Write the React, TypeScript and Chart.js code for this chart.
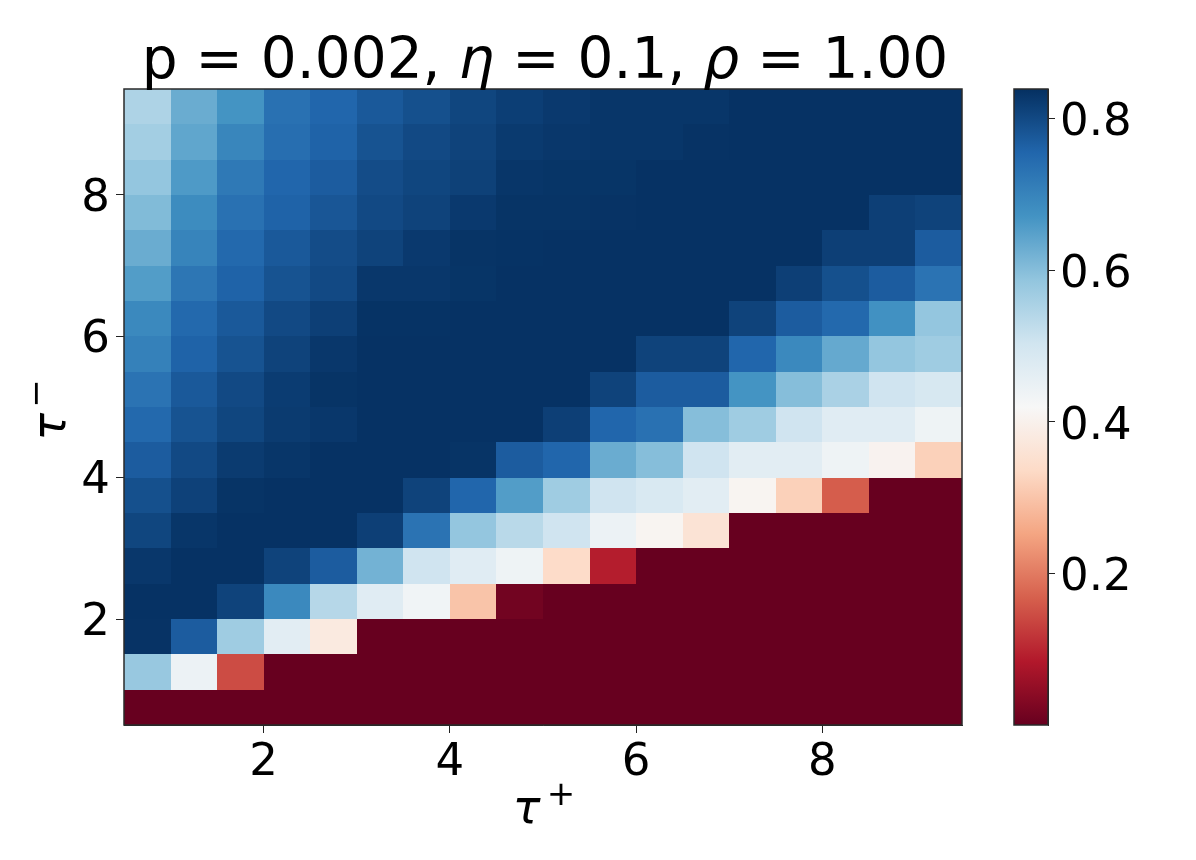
import React, { useEffect, useRef } from "react";
import { Chart, registerables } from "chart.js";

Chart.register(...registerables);

const FONT = '"DejaVu Sans"';
const xEdges = [0.5, 1, 1.5, 2, 2.5, 3, 3.5, 4, 4.5, 5, 5.5, 6, 6.5, 7, 7.5, 8, 8.5, 9];
const yEdges = [9, 8.5, 8, 7.5, 7, 6.5, 6, 5.5, 5, 4.5, 4, 3.5, 3, 2.5, 2, 1.5, 1, 0.5];
const cellSize = 0.5;
const axisTicks = [2, 4, 6, 8];
const colorbarTicks = [0.2, 0.4, 0.6, 0.8];
const vMin = 0.0005;
const vMax = 0.839;

// rows listed from the top of the picture (tau- = 9..9.5) to the bottom
const row0 = [0.55, 0.63, 0.67, 0.735, 0.755, 0.775, 0.79, 0.805, 0.817, 0.825, 0.83, 0.83, 0.83, 0.836, 0.836, 0.836, 0.836, 0.836];
const row1 = [0.565, 0.64, 0.695, 0.74, 0.76, 0.785, 0.8, 0.81, 0.823, 0.828, 0.83, 0.83, 0.834, 0.836, 0.836, 0.836, 0.836, 0.836];
const row2 = [0.585, 0.66, 0.72, 0.755, 0.77, 0.795, 0.805, 0.813, 0.83, 0.832, 0.832, 0.836, 0.836, 0.836, 0.836, 0.836, 0.836, 0.836];
const row3 = [0.605, 0.685, 0.735, 0.76, 0.78, 0.8, 0.81, 0.825, 0.833, 0.833, 0.834, 0.836, 0.836, 0.836, 0.836, 0.836, 0.815, 0.81];
const row4 = [0.63, 0.7, 0.75, 0.775, 0.795, 0.81, 0.825, 0.833, 0.835, 0.836, 0.836, 0.836, 0.836, 0.836, 0.836, 0.815, 0.815, 0.77];
const row5 = [0.655, 0.725, 0.76, 0.785, 0.8, 0.828, 0.828, 0.832, 0.836, 0.836, 0.836, 0.836, 0.836, 0.836, 0.815, 0.79, 0.77, 0.73];
const row6 = [0.69, 0.75, 0.775, 0.8, 0.815, 0.835, 0.835, 0.836, 0.836, 0.836, 0.836, 0.836, 0.836, 0.81, 0.77, 0.75, 0.675, 0.585];
const row7 = [0.705, 0.76, 0.785, 0.81, 0.828, 0.836, 0.836, 0.836, 0.836, 0.836, 0.836, 0.81, 0.81, 0.755, 0.69, 0.635, 0.585, 0.57];
const row8 = [0.73, 0.775, 0.8, 0.82, 0.833, 0.836, 0.836, 0.836, 0.836, 0.836, 0.81, 0.77, 0.77, 0.67, 0.6, 0.555, 0.505, 0.49];
const row9 = [0.75, 0.785, 0.805, 0.822, 0.828, 0.836, 0.836, 0.836, 0.836, 0.815, 0.755, 0.735, 0.6, 0.57, 0.505, 0.47, 0.47, 0.44];
const row10 = [0.77, 0.8, 0.822, 0.83, 0.836, 0.836, 0.836, 0.833, 0.77, 0.755, 0.63, 0.6, 0.505, 0.465, 0.465, 0.44, 0.405, 0.32];
const row11 = [0.79, 0.812, 0.833, 0.836, 0.836, 0.836, 0.81, 0.755, 0.655, 0.57, 0.505, 0.485, 0.465, 0.41, 0.32, 0.165, 0.001, 0.001];
const row12 = [0.805, 0.83, 0.836, 0.836, 0.836, 0.815, 0.73, 0.585, 0.535, 0.505, 0.445, 0.41, 0.36, 0.001, 0.001, 0.001, 0.001, 0.001];
const row13 = [0.828, 0.836, 0.836, 0.81, 0.77, 0.62, 0.505, 0.47, 0.44, 0.34, 0.09, 0.001, 0.001, 0.001, 0.001, 0.001, 0.001, 0.001];
const row14 = [0.836, 0.836, 0.81, 0.69, 0.54, 0.47, 0.435, 0.3, 0.013, 0.001, 0.001, 0.001, 0.001, 0.001, 0.001, 0.001, 0.001, 0.001];
const row15 = [0.834, 0.77, 0.57, 0.465, 0.38, 0.001, 0.001, 0.001, 0.001, 0.001, 0.001, 0.001, 0.001, 0.001, 0.001, 0.001, 0.001, 0.001];
const row16 = [0.58, 0.445, 0.145, 0.001, 0.001, 0.001, 0.001, 0.001, 0.001, 0.001, 0.001, 0.001, 0.001, 0.001, 0.001, 0.001, 0.001, 0.001];
const row17 = [0.001, 0.001, 0.001, 0.001, 0.001, 0.001, 0.001, 0.001, 0.001, 0.001, 0.001, 0.001, 0.001, 0.001, 0.001, 0.001, 0.001, 0.001];
const rows = [row0, row1, row2, row3, row4, row5, row6, row7, row8, row9, row10, row11, row12, row13, row14, row15, row16, row17];

const rdbu = ["#67001f", "#b2182b", "#d6604d", "#f4a582", "#fddbc7", "#f7f7f7", "#d1e5f0", "#92c5de", "#4393c3", "#2166ac", "#053061"];

const rgb = (h: string) => [1, 3, 5].map((i) => parseInt(h.slice(i, i + 2), 16));

function colorOf(v: number) {
  const t = Math.min(1, Math.max(0, (v - vMin) / (vMax - vMin))) * (rdbu.length - 1);
  const i = Math.min(rdbu.length - 2, Math.floor(t));
  const a = rgb(rdbu[i]);
  const b = rgb(rdbu[i + 1]);
  const f = t - i;
  return `rgb(${a.map((c, k) => Math.round(c + (b[k] - c) * f)).join(",")})`;
}

type Seg = { text: string; font: string; dy?: number };

function drawRun(ctx: CanvasRenderingContext2D, segs: Seg[], cx: number, cy: number, angle = 0) {
  ctx.save();
  ctx.translate(cx, cy);
  ctx.rotate(angle);
  ctx.fillStyle = "#000";
  ctx.textBaseline = "alphabetic";
  ctx.textAlign = "left";
  let total = 0;
  segs.forEach((s) => {
    ctx.font = s.font;
    total += ctx.measureText(s.text).width;
  });
  let x = -total / 2;
  segs.forEach((s) => {
    ctx.font = s.font;
    ctx.fillText(s.text, x, s.dy ?? 0);
    x += ctx.measureText(s.text).width;
  });
  ctx.restore();
}

const titleFont = `56.5px ${FONT}`;
const titleItalic = `italic 56.5px ${FONT}`;
const titleSegs: Seg[] = [
  { text: "p = 0.002, ", font: titleFont },
  { text: "η", font: titleItalic },
  { text: " = 0.1, ", font: titleFont },
  { text: "ρ", font: titleItalic },
  { text: " = 1.00", font: titleFont },
];
const tauFont = `italic 46px ${FONT}`;
const supFont = `34px ${FONT}`;

const heatmapPlugin = {
  id: "heatmap",
  beforeDatasetsDraw(chart: any) {
    const { ctx, scales } = chart;
    ctx.save();
    chart.data.datasets[0].data.forEach((d: any) => {
      const x0 = Math.round(scales.x.getPixelForValue(d.x));
      const x1 = Math.round(scales.x.getPixelForValue(d.x + cellSize));
      const y0 = Math.round(scales.y.getPixelForValue(d.y + cellSize));
      const y1 = Math.round(scales.y.getPixelForValue(d.y));
      ctx.fillStyle = colorOf(d.v);
      ctx.fillRect(x0, y0, x1 - x0, y1 - y0);
    });
    ctx.restore();
  },
  afterDraw(chart: any) {
    const { ctx, chartArea: a } = chart;
    ctx.save();
    ctx.strokeStyle = "#2a2a2a";
    ctx.lineWidth = 1.5;
    ctx.strokeRect(a.left, a.top, a.right - a.left, a.bottom - a.top);
    ctx.restore();
    drawRun(ctx, titleSegs, 545, 78);
    drawRun(ctx, [{ text: "τ", font: tauFont }, { text: " ", font: `20px ${FONT}` }, { text: "+", font: supFont, dy: -18 }], 544, 823);
    drawRun(ctx, [{ text: "τ", font: tauFont }, { text: " ", font: `16px ${FONT}` }, { text: "−", font: supFont, dy: -18 }], 65, 410, -Math.PI / 2);
  },
};

const framePlugin = {
  id: "frame",
  afterDraw(chart: any) {
    const { ctx, chartArea: a } = chart;
    ctx.save();
    ctx.strokeStyle = "#2a2a2a";
    ctx.lineWidth = 1.5;
    ctx.strokeRect(a.left, a.top, a.right - a.left, a.bottom - a.top);
    ctx.restore();
  },
};

export default function App() {
  const mainRef = useRef<HTMLCanvasElement>(null);
  const barRef = useRef<HTMLCanvasElement>(null);

  useEffect(() => {
    const cells = rows.flatMap((row, r) => row.map((v, c) => ({ x: xEdges[c], y: yEdges[r], v })));
    const tickFont = { family: FONT, size: 45 };
    const main = new Chart(mainRef.current as HTMLCanvasElement, {
      type: "scatter",
      data: { datasets: [{ data: cells, pointRadius: 0, pointHoverRadius: 0 }] as any },
      options: {
        animation: false,
        responsive: false,
        events: [],
        layout: { padding: { top: 89, right: 234, left: 0, bottom: 0 } },
        plugins: { legend: { display: false }, tooltip: { enabled: false } },
        scales: {
          x: {
            type: "linear",
            min: 0.5,
            max: 9.5,
            afterBuildTicks: (s: any) => { s.ticks = axisTicks.map((value) => ({ value })); },
            afterFit: (s: any) => { s.height = 135; },
            grid: { drawOnChartArea: false, drawTicks: true, tickLength: 8, color: "#222", lineWidth: 1 },
            border: { display: true, color: "#2a2a2a" },
            ticks: { color: "#000", font: tickFont, padding: 3, maxRotation: 0, callback: (v: any) => String(v) },
          },
          y: {
            type: "linear",
            min: 0.5,
            max: 9.5,
            afterBuildTicks: (s: any) => { s.ticks = axisTicks.map((value) => ({ value })); },
            afterFit: (s: any) => { s.width = 124; },
            grid: { drawOnChartArea: false, drawTicks: true, tickLength: 8, color: "#222", lineWidth: 1 },
            border: { display: true, color: "#2a2a2a" },
            ticks: { color: "#000", font: tickFont, padding: 6, labelOffset: 4, callback: (v: any) => String(v) },
          },
        },
      } as any,
      plugins: [heatmapPlugin as any],
    });

    const bar = new Chart(barRef.current as HTMLCanvasElement, {
      type: "bar",
      data: {
        labels: [""],
        datasets: [
          {
            data: [[vMin, vMax]] as any,
            barPercentage: 1,
            categoryPercentage: 1,
            backgroundColor: (c: any) => {
              const a = c.chart.chartArea;
              if (!a) return "#fff";
              const g = c.chart.ctx.createLinearGradient(0, a.bottom, 0, a.top);
              rdbu.forEach((h, i) => g.addColorStop(i / (rdbu.length - 1), h));
              return g;
            },
          },
        ],
      },
      options: {
        animation: false,
        responsive: false,
        events: [],
        layout: { padding: { top: 89, bottom: 135, left: 14, right: 0 } },
        plugins: { legend: { display: false }, tooltip: { enabled: false } },
        scales: {
          x: { display: false },
          y: {
            type: "linear",
            position: "right",
            min: vMin,
            max: vMax,
            afterBuildTicks: (s: any) => { s.ticks = colorbarTicks.map((value) => ({ value })); },
            afterFit: (s: any) => { s.width = 148; },
            grid: { drawOnChartArea: false, drawTicks: true, tickLength: 7, color: "#222" },
            border: { display: true, color: "#2a2a2a" },
            ticks: { color: "#000", font: tickFont, padding: 5, labelOffset: 5, callback: (v: any) => Number(v).toFixed(1) },
          },
        },
      } as any,
      plugins: [framePlugin as any],
    });

    return () => {
      main.destroy();
      bar.destroy();
    };
  }, []);

  return (
    <div style={{ position: "absolute", left: 0, top: 0, width: 1196, height: 860, background: "#fff" }}>
      <canvas ref={mainRef} width={1196} height={860} style={{ position: "absolute", left: 0, top: 0 }} />
      <canvas ref={barRef} width={196} height={860} style={{ position: "absolute", left: 1000, top: 0 }} />
    </div>
  );
}
